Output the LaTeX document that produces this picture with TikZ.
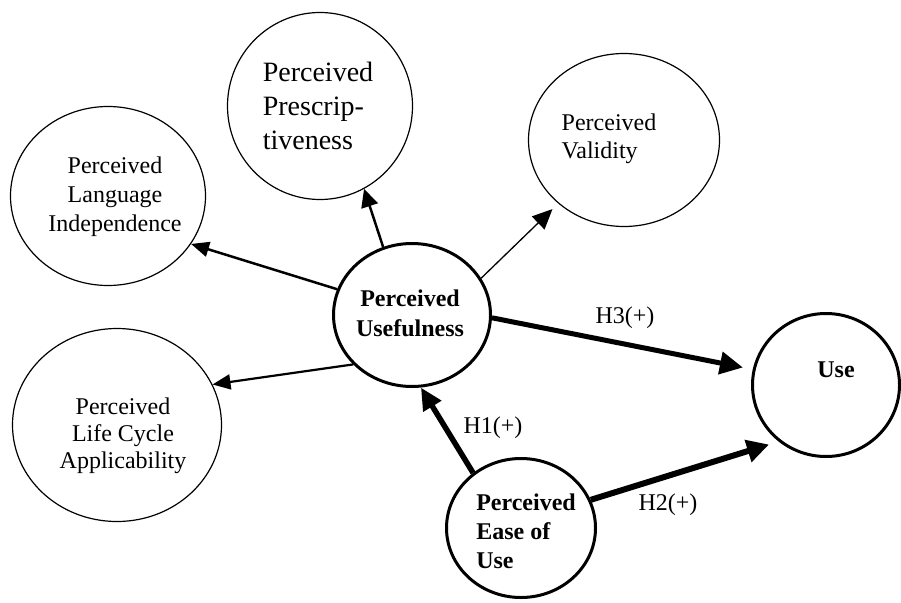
\documentclass[tikz,border=0pt]{standalone}
\usepackage{fontspec}
\setmainfont{Liberation Serif}
\usetikzlibrary{shapes.geometric,arrows.meta}
\begin{document}
\begin{tikzpicture}[x=1pt,y=-1pt,
  ell/.style={ellipse, draw, line width=1.2pt, inner sep=0pt},
  ellb/.style={ellipse, draw, line width=3pt, inner sep=0pt},
  txt/.style={font=\fontsize{24}{29}\selectfont, inner sep=0pt},
  txtb/.style={font=\fontsize{24}{30}\selectfont\bfseries, inner sep=0pt},
  hlbl/.style={font=\fontsize{24}{29}\selectfont, inner sep=0pt},
]
\useasboundingbox (0,0) rectangle (901,602);
% ellipses
\node[ell, minimum width=195pt, minimum height=179pt] (lang) at (108,196) {};
\node[ell, minimum width=185pt, minimum height=187pt] (presc) at (320,106) {};
\node[ell, minimum width=191pt, minimum height=173pt] (valid) at (624,140) {};
\node[ell, minimum width=209pt, minimum height=193pt] (life) at (117,425) {};
\node[ellb, minimum width=157pt, minimum height=143pt] (pu) at (412,315) {};
\node[ellb, minimum width=149pt, minimum height=139pt] (peu) at (521,528) {};
\node[ellb, minimum width=147pt, minimum height=143pt] (use) at (826,385) {};
% texts
\node[txt, align=center] (langt) at (115,197) {Perceived\\Language\\Independence};
\node[font=\fontsize{28}{34}\selectfont, inner sep=0pt, align=left] (presct) at (318,106) {Perceived\\Prescrip-\\tiveness};
\node[txt, align=left, font=\fontsize{24}{28}\selectfont] (validt) at (609,139) {Perceived\\Validity};
\node[txt, align=center, font=\fontsize{24}{27}\selectfont] (lifet) at (123,436) {Perceived\\Life Cycle\\Applicability};
\node[txtb, align=center] (put) at (410,313) {Perceived\\Usefulness};
\node[txtb, align=left, font=\fontsize{24}{29}\selectfont\bfseries] (peut) at (526,531) {Perceived\\Ease of\\Use};
\node[txtb] (uset) at (836,370) {Use};
% arrows
\draw[line width=2.5pt,-{Triangle[length=18pt,width=15pt]}] (pu.161.6) -- (lang.-30.3);
\draw[line width=2.5pt,-{Triangle[length=18pt,width=17pt]}] (pu.113.2) -- (presc.-62.2);
\draw[line width=1.3pt,-{Triangle[length=20pt,width=18pt]}, shorten >=8pt] (pu.28.5) -- (valid.-136.2);
\draw[line width=2.2pt,-{Triangle[length=18pt,width=15pt]}] (pu.-140.2) -- (life.23.7);
\draw[line width=5pt,-{Triangle[length=23pt,width=22pt]}, shorten >=10pt] (pu.-2) -- (use.168.7);
\draw[line width=5.5pt,-{Triangle[length=22pt,width=20pt]}] (peu.131.5) -- (pu.-83.9);
\draw[line width=6pt,-{Triangle[length=22pt,width=22pt]}, shorten >=10pt] (peu.22.6) -- (use.-130.2);
% labels
\node[hlbl] (h3) at (625,318) {H3(+)};
\node[hlbl] (h1) at (493,428) {H1(+)};
\node[hlbl] (h2) at (668,505) {H2(+)};
\end{tikzpicture}
\end{document}
